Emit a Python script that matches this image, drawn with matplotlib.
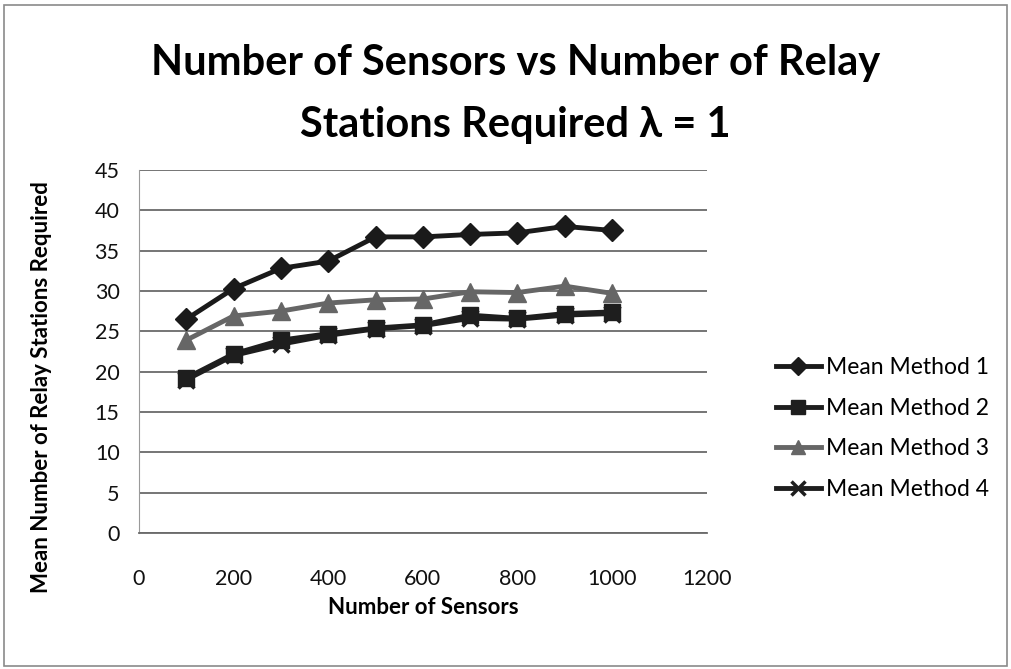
import matplotlib.pyplot as plt
from matplotlib.patches import Rectangle

plt.rcParams['font.family'] = ['Lato', 'DejaVu Sans']

sensors = [100, 200, 300, 400, 500, 600, 700, 800, 900, 1000]
method1 = [26.5, 30.3, 32.8, 33.7, 36.7, 36.7, 37.0, 37.2, 38.0, 37.5]
method2 = [19.2, 22.2, 23.9, 24.7, 25.4, 25.8, 27.0, 26.6, 27.2, 27.4]
method3 = [23.9, 26.9, 27.5, 28.5, 28.9, 29.0, 29.9, 29.8, 30.6, 29.7]
method4 = [19.0, 22.0, 23.4, 24.5, 25.3, 25.7, 26.6, 26.5, 27.0, 27.2]

fig = plt.figure(figsize=(10.11, 6.69), dpi=100)
fig.patches.append(Rectangle((0.004, 0.004), 0.992, 0.988, transform=fig.transFigure,
                             fill=False, edgecolor='#8a8a8a', linewidth=1.2))

ax = fig.add_axes([0.1375, 0.2033, 0.5615, 0.5427])

ax.plot(sensors, method4, color='#1e1e1e', lw=3.5, marker='x', ms=12, mew=2.5,
        label='Mean Method 4', zorder=3)
ax.plot(sensors, method3, color='#666666', lw=3.5, marker='^', ms=13,
        label='Mean Method 3', zorder=3)
ax.plot(sensors, method2, color='#1e1e1e', lw=3.5, marker='s', ms=12,
        label='Mean Method 2', zorder=4)
ax.plot(sensors, method1, color='#1a1a1a', lw=3.5, marker='D', ms=11,
        label='Mean Method 1', zorder=5)

ax.set_xlim(0, 1200)
ax.set_ylim(0, 45)
ax.set_xticks(range(0, 1201, 200))
ax.set_yticks(range(0, 46, 5))
ax.yaxis.grid(True, color='#6a6a6a', lw=1.3)
ax.set_axisbelow(True)
for s in ['top', 'right']:
    ax.spines[s].set_visible(False)
ax.spines['left'].set_color('#9a9a9a')
ax.spines['bottom'].set_color('#6a6a6a')
ax.spines['bottom'].set_linewidth(1.3)
ax.tick_params(length=0, labelsize=15.5, labelcolor='#111111')
ax.tick_params(axis='x', pad=26)
ax.tick_params(axis='y', pad=14)

ax.set_xlabel('Number of Sensors', fontsize=16, fontweight='bold', labelpad=6)
fig.text(42 / 1011, 1 - 387 / 669, 'Mean Number of Relay Stations Required',
         rotation=90, ha='center', va='center', fontsize=16, fontweight='bold')

fig.text(0.51, 1 - 63 / 669, 'Number of Sensors vs Number of Relay',
         ha='center', va='center', fontsize=30, fontweight='bold')
fig.text(0.51, 1 - 125 / 669, 'Stations Required \u03bb = 1',
         ha='center', va='center', fontsize=30, fontweight='bold')

handles, labels = ax.get_legend_handles_labels()
order = [3, 2, 1, 0]
ax.legend([handles[i] for i in order], [labels[i] for i in order],
          loc='center left', bbox_to_anchor=(1.085, 0.288), frameon=False,
          fontsize=16.5, handlelength=2.0, handletextpad=0.2, labelspacing=0.85,
          markerscale=0.8)

fig.savefig('out.png', dpi=100)
